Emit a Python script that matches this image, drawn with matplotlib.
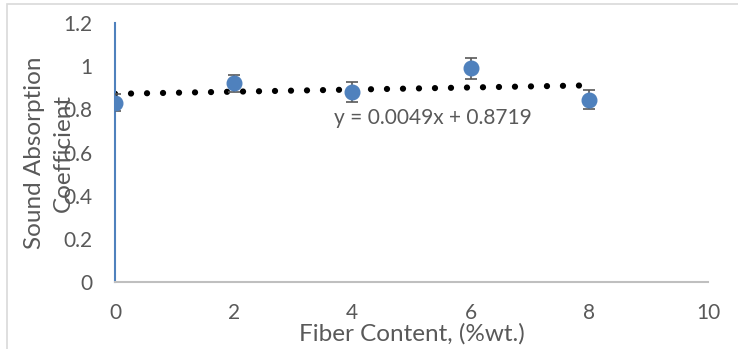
import numpy as np
import matplotlib; matplotlib.use("Agg")
import matplotlib.pyplot as plt
from matplotlib.patches import Rectangle

# fibre content (%wt.) and measured sound absorption coefficient
fiber = [0, 2, 4, 6, 8]
alpha = [0.83, 0.92, 0.88, 0.99, 0.845]
err = [0.04, 0.04, 0.045, 0.05, 0.043]

# linear trendline reported on the chart
slope, intercept = 0.0049, 0.8719
eq_text = "y = 0.0049x + 0.8719"

x_ticks = [0, 2, 4, 6, 8, 10]
y_ticks = [0, 0.2, 0.4, 0.6, 0.8, 1, 1.2]
y_tick_labels = ["0", "0.2", "0.4", "0.6", "0.8", "1", "1.2"]

GRAY = "#595959"
BLUE = "#4f81bd"
plt.rcParams["font.family"] = ["Lato", "DejaVu Sans"]

fig = plt.figure(figsize=(7.38, 3.49), dpi=100)
# chart area border
fig.patches.append(Rectangle((7/738, -0.1), 1.1, 1.1 - 4/349, transform=fig.transFigure,
                             fill=False, edgecolor="#d9d9d9", lw=1.2))
ax = fig.add_axes([115/738, 67/349, 593/738, 259/349])

xt = np.array([fiber[0], fiber[-1]])
xs = np.linspace(xt[0], xt[1], 200)
ax.plot(xs, slope*xs + intercept, color="black", lw=4.5, ls=(0, (0.01, 2.55)),
        dash_capstyle="round", zorder=2)
ax.errorbar(fiber, alpha, yerr=err, fmt="o", color=BLUE, ms=10.5, ecolor=GRAY,
            elinewidth=1.2, capsize=4.5, capthick=1.2, zorder=3)
ax.text(5.36, 0.76, eq_text, ha="center", va="center", fontsize=15, color=GRAY)

ax.set_xlim(0, 10)
ax.set_ylim(0, 1.2)
ax.set_xticks(x_ticks)
ax.set_yticks(y_ticks)
ax.set_yticklabels(y_tick_labels)
ax.tick_params(length=0, labelsize=15, labelcolor=GRAY)
ax.tick_params(axis="x", pad=15)
ax.tick_params(axis="y", pad=16)
for s in ("top", "right"):
    ax.spines[s].set_visible(False)
ax.spines["left"].set_color(BLUE)
ax.spines["left"].set_linewidth(1.5)
ax.spines["bottom"].set_color("#bfbfbf")
ax.spines["bottom"].set_linewidth(1.5)

ax.set_xlabel("Fiber Content, (%wt.)", fontsize=17.5, color=GRAY)
ax.xaxis.set_label_coords(0.5, -0.16)
ax.set_ylabel("Sound Absorption\nCoefficient", fontsize=17.5, color=GRAY,
              linespacing=1.45)
ax.yaxis.set_label_coords(-0.069, 0.5)

fig.savefig("out.png", dpi=100)
